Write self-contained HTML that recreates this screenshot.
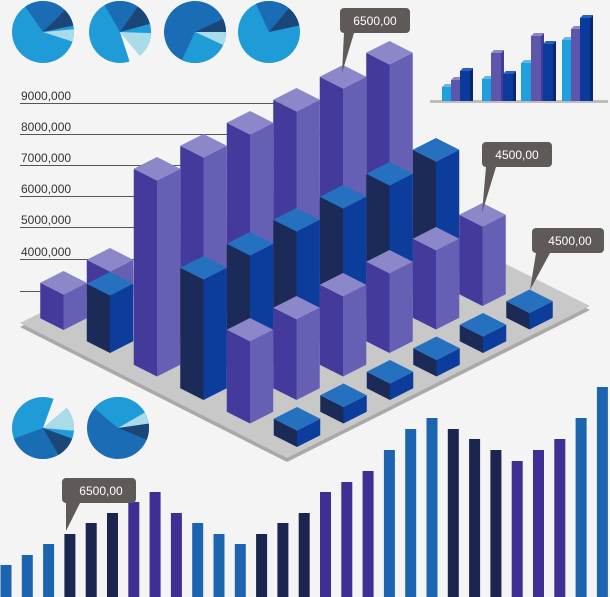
<!DOCTYPE html>
<html><head><meta charset="utf-8"><style>
html,body{margin:0;padding:0;background:#f4f4f4;}
svg{display:block;font-family:"Liberation Sans",sans-serif;}
</style></head><body>
<svg id="s" width="610" height="597" viewBox="0 0 610 597" xmlns="http://www.w3.org/2000/svg">
<rect width="610" height="597" fill="#f4f4f4"/>
<g id="grid" stroke="#555" stroke-width="1">
<line x1="20" y1="103.5" x2="330" y2="103.5"/>
<line x1="20" y1="134.5" x2="330" y2="134.5"/>
<line x1="20" y1="165.5" x2="330" y2="165.5"/>
<line x1="20" y1="196.5" x2="330" y2="196.5"/>
<line x1="20" y1="227.5" x2="330" y2="227.5"/>
<line x1="20" y1="259.5" x2="330" y2="259.5"/>
<line x1="20" y1="291.5" x2="60" y2="291.5"/>
</g>
<g fill="#333" font-size="12">
<text x="21" y="100">9000,000</text>
<text x="21" y="131">8000,000</text>
<text x="21" y="162">7000,000</text>
<text x="21" y="193">6000,000</text>
<text x="21" y="224">5000,000</text>
<text x="21" y="256">4000,000</text>
</g>
<polygon points="20,327 287,462 590,310 323,177" fill="#a9a9a9"/>
<polygon points="20,323 287,458 590,306 323,173" fill="#c8c8c8"/>
<g id="bars"></g>
<g id="pies"></g>
<g id="small"></g>
<g id="bottom"></g>
<g id="callouts" fill="#5f5a58">
<path d="M344,8 h62 a4,4 0 0 1 4,4 v17 a4,4 0 0 1 -4,4 h-52 l-12,40 l2,-40 a4,4 0 0 1 -4,-4 v-17 a4,4 0 0 1 4,-4z"/>
<path d="M486,142 h62 a4,4 0 0 1 4,4 v17 a4,4 0 0 1 -4,4 h-52 l-14,46 l4,-46 a4,4 0 0 1 -4,-4 v-17 a4,4 0 0 1 4,-4z"/>
<path d="M540,228 h60 a4,4 0 0 1 4,4 v17 a4,4 0 0 1 -4,4 h-50 l-20,37 l6,-37 a4,4 0 0 1 -4,-4 v-17 a4,4 0 0 1 4,-4z"/>
<path d="M70,478 h62 a4,4 0 0 1 4,4 v17 a4,4 0 0 1 -4,4 h-52 l-14,28 l0,-28 a4,4 0 0 1 -4,-4 v-17 a4,4 0 0 1 4,-4z"/>
</g>
<g fill="#fff" font-size="12">
<text x="375" y="25" text-anchor="middle">6500,00</text>
<text x="517" y="159" text-anchor="middle">4500,00</text>
<text x="570" y="245" text-anchor="middle">4500,00</text>
<text x="101" y="495" text-anchor="middle">6500,00</text>
</g>
</svg>
<script>
var NS="http://www.w3.org/2000/svg";
function el(g,tag,attrs){var e=document.createElementNS(NS,tag);for(var k in attrs)e.setAttribute(k,attrs[k]);document.getElementById(g).appendChild(e);return e;}
var P={t:"#8b87c9",l:"#433a9c",r:"#6660b4"}, B={t:"#2670c0",l:"#1b2a56",r:"#0c3c9c"};
var w=23.25,h=11.75;
var list=[];
function add(cx,top,base,c){list.push([cx,top,base,c]);}
// row 5
add(63.5,271,330,P);add(110,248,306.5,P);
// row 4
add(110,272,353,B);
// row 3
var r3t=[157,134,111,88,65,41];
for(var i=0;i<6;i++)add(157+46.5*i,r3t[i],376.5-23.5*i,P);
// row 2
var r2t=[256,232,208,185,162,138];
for(i=0;i<6;i++)add(203.5+46.5*i,r2t[i],400-23.5*i,B);
// row1
var r1t=[318,296,273,250,227,203];
for(i=0;i<6;i++)add(250+46.5*i,r1t[i],423.5-23.5*i,P);
// row0
for(i=0;i<6;i++)add(297+46.5*i,447-23.5*i-40,447-23.5*i,B);
list.sort(function(a,b){return a[2]-b[2];});
list.forEach(function(b){
 var cx=b[0],t=b[1],bs=b[2],c=b[3];
 el("bars","polygon",{points:[cx-w,t+h,cx,t+2*h,cx,bs,cx-w,bs-h].join(","),fill:c.l});
 el("bars","polygon",{points:[cx,t+2*h,cx+w,t+h,cx+w,bs-h,cx,bs].join(","),fill:c.r});
 el("bars","polygon",{points:[cx,t,cx+w,t+h,cx,t+2*h,cx-w,t+h].join(","),fill:c.t});
});
// pies
var LB="#1f9bd7",MB="#1a6db4",DB="#1c4678",PL="#a9dbe9",WH="#f4f4f4";
function pie(cx,cy,r,base,sl){
 el("pies","circle",{cx:cx,cy:cy,r:r,fill:base});
 sl.forEach(function(s){
  var a1=s[0]*Math.PI/180,a2=s[1]*Math.PI/180,rr=s[3]||r;
  var large=(s[1]-s[0])>180?1:0;
  el("pies","path",{d:"M"+cx+","+cy+" L"+(cx+rr*Math.cos(a1))+","+(cy+rr*Math.sin(a1))+" A"+rr+","+rr+" 0 "+large+" 1 "+(cx+rr*Math.cos(a2))+","+(cy+rr*Math.sin(a2))+"Z",fill:s[2]});
 });
}
pie(43,32,31,LB,[[-125,-20,MB],[-45,-12,DB],[-5,18,PL]]);
pie(120,32,31,LB,[[-120,-25,MB],[-55,-15,DB],[-15,0,LB],[2,50,PL],[50,72,WH,32]]);
pie(195,32,31,MB,[[-25,5,DB],[0,25,PL],[25,115,LB]]);
pie(269,32,31,LB,[[-115,-22,MB],[-50,-12,DB]]);
pie(43,428,31,LB,[[55,160,MB],[18,60,DB],[5,20,LB],[-40,5,PL],[-70,-40,WH,32]]);
pie(118,428,31,MB,[[-140,-30,LB],[-30,-8,PL],[-8,22,DB]]);
// small bar chart
el("small","rect",{x:430,y:100,width:178,height:3,fill:"#bdbdbd"});
var sg=[[442,84,451,77,460,68],[482,76,491,50,503,71],[521,60,531,33,543,41],[562,37,571,26,580,15]];
var sc=[["#1fa0dc","#157fc0","#62b9e6"],["#5e56ad","#433a9c","#8b87c9"],["#0a3a9c","#08286e","#2a5fbb"]];
sg.forEach(function(g){
 for(var k=0;k<3;k++){var x=g[k*2],t=g[k*2+1],c=sc[k];
  el("small","rect",{x:x,y:t+3,width:10,height:101-t-3,fill:c[0]});
  el("small","polygon",{points:[x+10,t+3,x+13,t,x+13,101,x+10,101].join(","),fill:c[1]});
  el("small","polygon",{points:[x,t+3,x+3,t,x+13,t,x+10,t+3].join(","),fill:c[2]});
 }
});
// bottom bars
var tops=[565,555,544,534,523,513,502,492,513,523,534,544,534,523,513,492,482,471,450,429,418,429,439,450,461,450,439,418,387];
var cols=["#1c63b0","#1a2550","#3f2f94"];
tops.forEach(function(t,i){
 var cx=6+i*21.3;
 el("bottom","rect",{x:cx-5.5,y:t,width:11,height:597-t,fill:cols[Math.floor(i/3)%3]});
});
</script>
</body></html>
